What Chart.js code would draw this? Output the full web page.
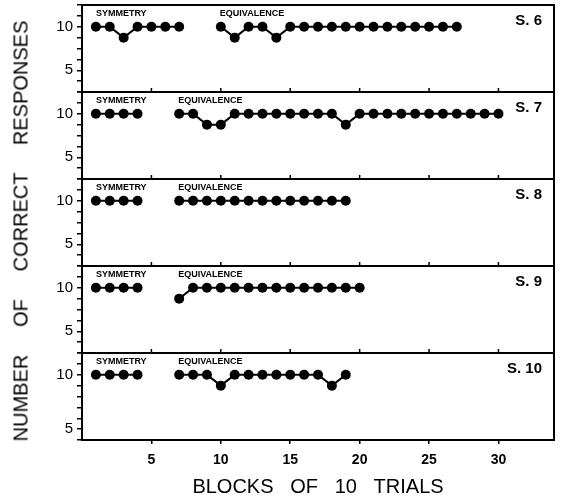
<!DOCTYPE html>
<html>
<head>
<meta charset="utf-8">
<script src="https://cdn.jsdelivr.net/npm/chart.js@4.4.0/dist/chart.umd.min.js"></script>
<style>
  body { margin: 0; background: #fff; }
  #wrap { position: relative; width: 563px; height: 502px; }
  #wrap canvas { position: absolute; left: 0; top: 0; }
  #ytitle {
    position: absolute; left: 21px; top: 231px;
    transform: translate(-50%, -50%) rotate(-90deg);
    white-space: pre; line-height: 1;
    font: 20px "Liberation Sans", Arial, sans-serif; color: #000;
  }
</style>
</head>
<body>
<div id="wrap">
  <canvas id="p0" width="563" height="502"></canvas>
  <canvas id="p1" width="563" height="502"></canvas>
  <canvas id="p2" width="563" height="502"></canvas>
  <canvas id="p3" width="563" height="502"></canvas>
  <canvas id="p4" width="563" height="502"></canvas>
  <div id="ytitle">NUMBER     OF     CORRECT     RESPONSES</div>
</div>
<script>
/* ---------- data ---------- */
const subjects = ["S. 6", "S. 7", "S. 8", "S. 9", "S. 10"];
const phaseNames = ["SYMMETRY", "EQUIVALENCE"];
const xTicks = [5, 10, 15, 20, 25, 30];
const yLabels = ["10", "5"];
// where the "10" and "5" labels sit on each panel's axis
const yLabelValues = [[10, 6], [10, 6], [10, 6], [10, 6], [10, 5]];

const symBlocks = [
  [1, 2, 3, 4, 5, 6, 7],
  [1, 2, 3, 4],
  [1, 2, 3, 4],
  [1, 2, 3, 4],
  [1, 2, 3, 4]
];
const symScores = [
  [10, 10, 9, 10, 10, 10, 10],
  [10, 10, 10, 10],
  [10, 10, 10, 10],
  [10, 10, 10, 10],
  [10, 10, 10, 10]
];

const eqBlocks = [
  [10, 11, 12, 13, 14, 15, 16, 17, 18, 19, 20, 21, 22, 23, 24, 25, 26, 27],
  [7, 8, 9, 10, 11, 12, 13, 14, 15, 16, 17, 18, 19, 20, 21, 22, 23, 24, 25, 26, 27, 28, 29, 30],
  [7, 8, 9, 10, 11, 12, 13, 14, 15, 16, 17, 18, 19],
  [7, 8, 9, 10, 11, 12, 13, 14, 15, 16, 17, 18, 19, 20],
  [7, 8, 9, 10, 11, 12, 13, 14, 15, 16, 17, 18, 19]
];
const eqScores = [
  [10, 9, 10, 10, 9, 10, 10, 10, 10, 10, 10, 10, 10, 10, 10, 10, 10, 10],
  [10, 10, 9, 9, 10, 10, 10, 10, 10, 10, 10, 10, 9, 10, 10, 10, 10, 10, 10, 10, 10, 10, 10, 10],
  [10, 10, 10, 10, 10, 10, 10, 10, 10, 10, 10, 10, 10],
  [9, 10, 10, 10, 10, 10, 10, 10, 10, 10, 10, 10, 10, 10],
  [10, 10, 10, 9, 10, 10, 10, 10, 10, 10, 10, 9, 10]
];

/* ---------- layout ---------- */
const panelTop = [5, 92, 179, 266, 353];
const panelBottom = [92, 179, 266, 353, 440];
const FONT = '"Liberation Sans", Arial, sans-serif';

const toPoints = (xs, ys) => xs.map((x, j) => ({ x, y: ys[j] }));

const lineStyle = {
  borderColor: "#000",
  borderWidth: 2,
  pointRadius: 5,
  pointBackgroundColor: "#000",
  pointBorderWidth: 0,
  tension: 0
};

// box, inner ticks and panel texts
const panelDeco = {
  id: "panelDeco",
  afterDraw(chart, args, opts) {
    const { ctx, chartArea: a, scales: { x, y } } = chart;
    const i = opts.index;
    ctx.save();
    ctx.strokeStyle = "#000";
    ctx.lineWidth = 2;
    ctx.strokeRect(a.left, a.top, a.right - a.left, a.bottom - a.top);

    if (i < 4) {
      ctx.lineWidth = 1.5;
      ctx.beginPath();
      xTicks.forEach(v => {
        const px = x.getPixelForValue(v);
        ctx.moveTo(px, a.bottom);
        ctx.lineTo(px, a.bottom - 4);
      });
      ctx.stroke();
    }

    ctx.fillStyle = "#000";
    ctx.textBaseline = "middle";
    ctx.textAlign = "left";
    ctx.font = "bold 9px " + FONT;
    ctx.fillText(phaseNames[0], x.getPixelForValue(symBlocks[i][0]), y.getPixelForValue(11.2));
    ctx.fillText(phaseNames[1], x.getPixelForValue(eqBlocks[i][0]) - 1, y.getPixelForValue(11.2));

    ctx.textAlign = "right";
    ctx.font = "bold 15px " + FONT;
    ctx.fillText(subjects[i], a.right - 12, a.top + 16);
    ctx.restore();
  }
};

function makePanel(i) {
  const last = i === 4;
  new Chart(document.getElementById("p" + i), {
    type: "line",
    data: {
      datasets: [
        { data: toPoints(symBlocks[i], symScores[i]), ...lineStyle },
        { data: toPoints(eqBlocks[i], eqScores[i]), ...lineStyle }
      ]
    },
    options: {
      responsive: false,
      animation: false,
      events: [],
      layout: {
        padding: { top: panelTop[i], bottom: last ? 0 : 502 - panelBottom[i], left: 0, right: 9 }
      },
      plugins: {
        legend: { display: false },
        tooltip: { enabled: false },
        panelDeco: { index: i }
      },
      scales: {
        x: {
          type: "linear",
          min: 0,
          max: 34,
          display: last,
          afterBuildTicks: s => { s.ticks = xTicks.map(v => ({ value: v })); },
          afterFit: s => { s.height = last ? 62 : 0; s.paddingLeft = 0; s.paddingRight = 0; },
          border: { display: false },
          grid: { drawOnChartArea: false, drawTicks: true, tickLength: 4, color: "#000", lineWidth: 1.5 },
          ticks: {
            color: "#000",
            padding: 8,
            maxRotation: 0,
            font: { family: FONT, size: 14, weight: "bold" }
          },
          title: {
            display: true,
            text: "BLOCKS   OF   10   TRIALS",
            color: "#000",
            padding: { top: 0, bottom: 3 },
            font: { family: FONT, size: 20 }
          }
        },
        y: {
          min: 4,
          max: 12,
          afterFit: s => { s.width = 82; s.paddingTop = 0; s.paddingBottom = 0; },
          border: { display: false },
          grid: { drawOnChartArea: false, drawTicks: true, tickLength: 5, color: "#000", lineWidth: 1.5 },
          ticks: {
            stepSize: 1,
            autoSkip: false,
            color: "#000",
            padding: 4,
            font: { family: FONT, size: 15 },
            callback: v => {
              const k = yLabelValues[i].indexOf(v);
              return k >= 0 ? yLabels[k] : "";
            }
          }
        }
      }
    },
    plugins: [panelDeco]
  });
}

for (let i = 0; i < 5; i++) makePanel(i);
</script>
</body>
</html>
